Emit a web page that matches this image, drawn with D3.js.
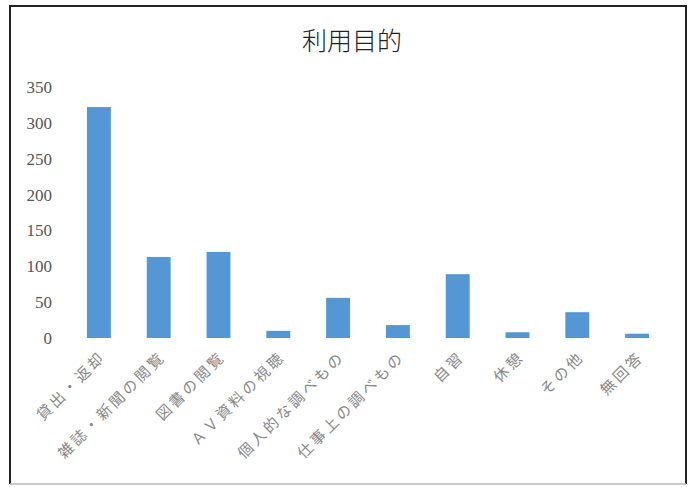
<!DOCTYPE html>
<html>
<head>
<meta charset="utf-8">
<script src="https://cdn.jsdelivr.net/npm/d3@7"></script>
<style>
  body { margin: 0; background: #fff; }
</style>
</head>
<body>
<div id="chart"></div>
<script>
// data
const categories = ["貸出・返却", "雑誌・新聞の閲覧", "図書の閲覧", "ＡＶ資料の視聴", "個人的な調べもの",
                    "仕事上の調べもの", "自習", "休憩", "その他", "無回答"];
const counts = [322, 113, 120, 10, 56, 18, 89, 8, 36, 6];
const yTicks = [0, 50, 100, 150, 200, 250, 300, 350];

const width = 695, height = 487;
const margin = {top: 87, right: 28, bottom: 149, left: 69};

const svg = d3.select("#chart").append("svg")
    .attr("width", width)
    .attr("height", height);

// frame of the scanned figure
svg.append("path")
    .attr("d", "M10,484 L10,6 L686,6 L686,484")
    .attr("fill", "none")
    .attr("stroke", "#222")
    .attr("stroke-width", 2);
svg.append("line")
    .attr("x1", 10).attr("x2", 686)
    .attr("y1", 484).attr("y2", 484)
    .attr("stroke", "#bbb")
    .attr("stroke-width", 1.5);

const x = d3.scaleBand()
    .domain(categories)
    .range([margin.left, width - margin.right])
    .paddingInner(0.6)
    .paddingOuter(0.3);

const y = d3.scaleLinear()
    .domain([0, 350])
    .range([height - margin.bottom, margin.top]);

// title
svg.append("text")
    .attr("x", 352)
    .attr("y", 50)
    .attr("text-anchor", "middle")
    .attr("font-family", "Noto Sans CJK JP")
    .attr("font-weight", 300)
    .attr("font-size", 25)
    .attr("fill", "#222")
    .text("利用目的");

// y axis labels only
svg.append("g")
    .selectAll("text")
    .data(yTicks)
    .join("text")
    .attr("x", 52)
    .attr("y", d => y(d))
    .attr("dy", "0.35em")
    .attr("text-anchor", "end")
    .attr("font-family", "Liberation Serif")
    .attr("font-size", 17)
    .attr("fill", "#555")
    .text(d => d);

// bars
svg.append("g")
    .selectAll("rect")
    .data(counts)
    .join("rect")
    .attr("x", (d, i) => x(categories[i]))
    .attr("y", d => y(d))
    .attr("width", x.bandwidth())
    .attr("height", d => y(0) - y(d))
    .attr("fill", "#5597d4");

// rotated category labels
svg.append("g")
    .selectAll("text")
    .data(categories)
    .join("text")
    .attr("transform", d => "translate(" + (x(d) + x.bandwidth() / 2 + 4) + "," + (y(0) + 16) + ") rotate(-45)")
    .attr("text-anchor", "end")
    .attr("dy", "0.35em")
    .attr("font-family", "Noto Sans CJK JP")
    .attr("font-size", 15)
    .attr("letter-spacing", 3)
    .attr("fill", "#888")
    .text(d => d);
</script>
</body>
</html>
